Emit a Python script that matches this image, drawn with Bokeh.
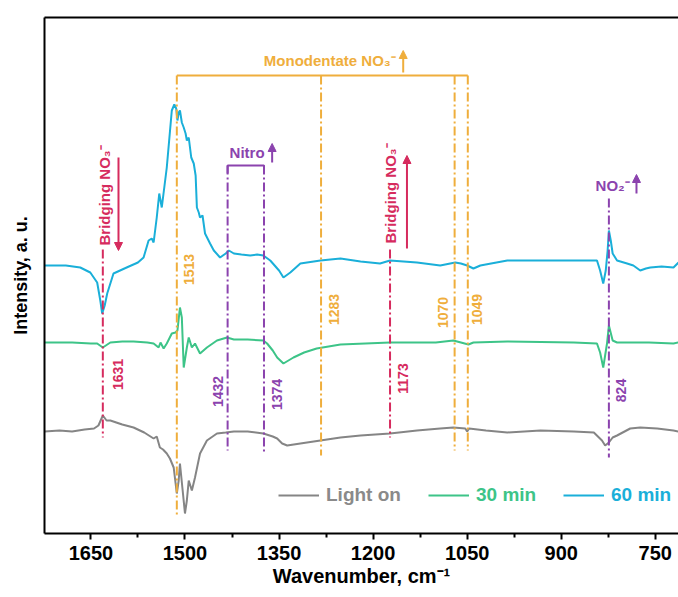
import numpy as np
from bokeh.plotting import figure
from bokeh.models import (Range1d, LinearAxis, FixedTicker, Legend, LegendItem,
                          Arrow, NormalHead)
from bokeh.core.properties import value
from bokeh.embed import file_html
from bokeh.resources import INLINE

FONT = "Liberation Sans"

# ---------------- data (offset spectra, arbitrary units) ----------------
wn_light = [1724, 1700, 1680, 1660, 1645, 1638, 1631, 1625, 1619, 1600, 1582, 1565, 1550, 1545,
            1540, 1535, 1529, 1524, 1518, 1513, 1510, 1508, 1504, 1500, 1497, 1494, 1489, 1484,
            1476, 1465, 1449, 1435, 1422, 1400, 1375, 1360, 1353, 1345, 1337, 1316, 1284, 1252,
            1220, 1173, 1130, 1093, 1072, 1053, 1050, 1047, 1020, 986, 933, 880, 848, 835, 830,
            824, 818, 811, 790, 774, 747, 721, 713]
int_light = [102, 103, 102, 104, 105, 108, 118, 113, 113, 109, 106, 101, 95, 97,
             86, 84, 80, 75, 66, 40, 53, 70, 45, 20, 33, 53, 43, 56,
             80, 93, 100, 101, 102, 102, 100, 97, 95, 90, 88, 90, 93, 96,
             98, 100, 103, 105, 106, 105, 102, 105, 103, 101, 103, 102, 101, 93, 88,
             91, 96, 98, 105, 106, 105, 103, 102]

wn_30 = [1724, 1680, 1650, 1640, 1631, 1619, 1600, 1582, 1560, 1550, 1542, 1539, 1534, 1529,
         1521, 1515, 1512, 1508, 1505, 1502, 1497, 1494, 1489, 1484, 1476, 1465, 1449, 1433,
         1422, 1400, 1375, 1369, 1360, 1353, 1343, 1327, 1310, 1290, 1252, 1173, 1100, 1072,
         1060, 1048, 1040, 986, 880, 843, 838, 833, 830, 827, 824, 818, 811, 760, 721, 713]
int_30 = [191, 191, 190, 190, 186, 191, 192, 192, 191, 190, 186, 191, 185, 190,
          200, 201, 203, 226, 216, 166, 186, 196, 186, 190, 180, 186, 193, 196,
          194, 194, 193, 190, 183, 176, 170, 176, 181, 185, 189, 191, 191, 193,
          191, 189, 191, 192, 191, 190, 181, 166, 178, 190, 208, 193, 191, 191, 190, 191]

wn_60 = [1724, 1690, 1667, 1651, 1640, 1635, 1632, 1628, 1624, 1614, 1593, 1575, 1566, 1558,
         1553, 1550, 1545, 1541, 1537, 1529, 1521, 1517, 1514, 1512, 1510, 1508, 1505, 1502,
         1499, 1497, 1494, 1490, 1486, 1483, 1481, 1478, 1476, 1472, 1468, 1460, 1454, 1444,
         1435, 1430, 1422, 1410, 1396, 1385, 1375, 1364, 1350, 1343, 1332, 1316, 1284, 1252,
         1220, 1189, 1173, 1130, 1093, 1069, 1060, 1050, 1040, 1029, 986, 930, 880, 843,
         838, 833, 829, 826, 824, 821, 818, 811, 795, 785, 774, 765, 758, 740, 721, 713]
int_60 = [268, 268, 266, 261, 251, 233, 220, 228, 240, 260, 266, 271, 276, 293,
          295, 291, 316, 340, 326, 366, 423, 429, 425, 413, 421, 423, 411, 406,
          400, 393, 396, 376, 370, 358, 326, 321, 316, 318, 300, 290, 283, 276,
          280, 283, 280, 279, 278, 279, 278, 273, 263, 256, 261, 270, 273, 275,
          272, 270, 273, 271, 268, 271, 270, 268, 265, 268, 273, 273, 273, 273,
          263, 250, 263, 283, 303, 293, 280, 273, 270, 268, 263, 265, 266, 267, 266, 271]

series_names = ["Light on", "30 min", "60 min"]

# band assignments
bridging_peaks = [1631, 1173]
mono_peaks = [1513, 1283, 1070, 1049]
nitro_peaks = [1432, 1374]
nitrite_peaks = [824]

tick_values = [1650, 1500, 1350, 1200, 1050, 900, 750]
minor_tick_values = [1575, 1425, 1275, 1125, 975, 825]

# ---------------- styling ----------------
C_GRAY = "#858585"
C_GREEN = "#3DC488"
C_CYAN = "#1AAFD9"
C_RED = "#D62B5E"
C_ORANGE = "#EFAE3C"
C_PURPLE = "#8B43AE"
DASH = "9 3 2 3"

p = figure(width=678, height=597, x_range=Range1d(1724, 713), y_range=Range1d(0, 516),
           output_backend="svg", toolbar_location=None,
           min_border_left=44, min_border_right=0, min_border_top=17, min_border_bottom=64)
p.outline_line_color = None
p.xgrid.visible = False
p.ygrid.visible = False
p.background_fill_color = "white"

# bottom axis
xa = p.xaxis[0]
xa.ticker = FixedTicker(ticks=tick_values, minor_ticks=minor_tick_values)
xa.axis_line_width = 2
xa.major_tick_line_width = 2
xa.minor_tick_line_width = 2
xa.major_tick_in = 0
xa.major_tick_out = 6
xa.minor_tick_in = 0
xa.minor_tick_out = 4
xa.major_label_text_font = FONT
xa.major_label_text_font_style = "bold"
xa.major_label_text_font_size = "20px"
xa.major_label_text_color = "black"
xa.major_label_standoff = 6
xa.axis_label = "Wavenumber, cm⁻¹"
xa.axis_label_text_font = FONT
xa.axis_label_text_font_style = "bold"
xa.axis_label_text_font_size = "20px"
xa.axis_label_text_color = "black"
xa.axis_label_standoff = 2

# left axis (no ticks)
ya = p.yaxis[0]
ya.ticker = FixedTicker(ticks=[])
ya.axis_line_width = 2
ya.major_tick_out = 0
ya.major_tick_in = 0
ya.minor_tick_out = 0
ya.minor_tick_in = 0
ya.major_label_text_font_size = "0px"
ya.major_label_standoff = 0
ya.axis_label = "Intensity, a. u."
ya.axis_label_text_font = FONT
ya.axis_label_text_font_style = "bold"
ya.axis_label_text_font_size = "18px"
ya.axis_label_text_color = "black"
ya.axis_label_standoff = 14

# top frame line
top = LinearAxis(ticker=FixedTicker(ticks=[]), axis_line_width=2, major_tick_out=0,
                 major_tick_in=0, minor_tick_out=0, minor_tick_in=0,
                 major_label_text_font_size="0px", major_label_standoff=0)
p.add_layout(top, "above")

# ---------------- spectra ----------------
r_light = p.line(wn_light, int_light, line_color=C_GRAY, line_width=2)
r_30 = p.line(wn_30, int_30, line_color=C_GREEN, line_width=2)
r_60 = p.line(wn_60, int_60, line_color=C_CYAN, line_width=2)

# ---------------- band markers ----------------
def vlines(xs, y0s, y1s, color):
    p.segment(x0=xs, y0=y0s, x1=xs, y1=y1s, line_color=color, line_width=2, line_dash=DASH)

def vlabels(xs, ys, texts, color, size="14px", align="center"):
    p.text(x=xs, y=ys, text=texts, angle=np.pi / 2, text_align=align, text_baseline="middle",
           text_font=value(FONT), text_font_style="bold", text_font_size=size, text_color=color)

def hlabel(x, y, t, color, size="15px"):
    p.text(x=[x], y=[y], text=[t], text_align="center", text_baseline="middle",
           text_font=value(FONT), text_font_style="bold", text_font_size=size, text_color=color)

def arrow(x, y0, y1, color):
    p.add_layout(Arrow(end=NormalHead(size=8, fill_color=color, line_color=color, line_width=1),
                       x_start=x, y_start=y0, x_end=x, y_end=y1, line_color=color, line_width=2))

# monodentate nitrate bracket
mono_top = 458
p.line([mono_peaks[0], mono_peaks[-1]], [mono_top, mono_top], line_color=C_ORANGE, line_width=2)
vlines(mono_peaks, [mono_top] * 4, [18, 78, 83, 83], C_ORANGE)
vlabels([mono_peaks[0] - 20, mono_peaks[1] - 20, mono_peaks[2] + 18, mono_peaks[3] - 15],
        [264, 224, 221, 224], [str(v) for v in mono_peaks], C_ORANGE)
hlabel(1269, 473, "Monodentate NO₃⁻", C_ORANGE)
arrow(1152, 461, 483, C_ORANGE)

# nitro bracket
nitro_top = 368
p.line([nitro_peaks[0], nitro_peaks[0], nitro_peaks[1], nitro_peaks[1]],
       [nitro_top - 8, nitro_top, nitro_top, nitro_top - 8], line_color=C_PURPLE, line_width=2)
vlines(nitro_peaks, [nitro_top] * 2, [83, 82], C_PURPLE)
vlabels([nitro_peaks[0] + 16, nitro_peaks[1] - 21], [142, 139],
        [str(v) for v in nitro_peaks], C_PURPLE)
hlabel(1401, 381, "Nitro", C_PURPLE)
arrow(1361, 371, 390, C_PURPLE)

# bridging nitrate
vlines(bridging_peaks, [284, 284], [96, 96], C_RED)
vlabels([bridging_peaks[0] - 25, bridging_peaks[1] - 21], [159, 155],
        [str(v) for v in bridging_peaks], C_RED)
vlabels([bridging_peaks[0] - 2, bridging_peaks[1] - 1], [288, 290],
        ["Bridging NO₃⁻", "Bridging NO₃⁻"], C_RED, size="15px", align="left")
arrow(1606, 376, 283, C_RED)
arrow(1146, 285, 378, C_RED)

# nitrite
vlines(nitrite_peaks, [335], [76], C_PURPLE)
vlabels([nitrite_peaks[0] - 20], [143], [str(v) for v in nitrite_peaks], C_PURPLE)
hlabel(818, 348, "NO₂⁻", C_PURPLE)
arrow(780, 340, 359, C_PURPLE)

# ---------------- legends ----------------
for name, r, col, tcol, loc in [(series_names[0], r_light, C_GRAY, "#8A8A8A", (234, 27)),
                                (series_names[1], r_30, C_GREEN, C_GREEN, (384, 27)),
                                (series_names[2], r_60, C_CYAN, C_CYAN, (519, 27))]:
    leg = Legend(items=[LegendItem(label=name, renderers=[r])], location=loc,
                 orientation="horizontal", glyph_width=41, glyph_height=20, label_standoff=7,
                 label_text_font=FONT, label_text_font_style="bold", label_text_font_size="19px",
                 label_text_color=tcol, border_line_color=None, background_fill_alpha=0,
                 padding=0, margin=0, spacing=0)
    p.add_layout(leg)

open("out.html", "w").write(file_html(p, INLINE))
